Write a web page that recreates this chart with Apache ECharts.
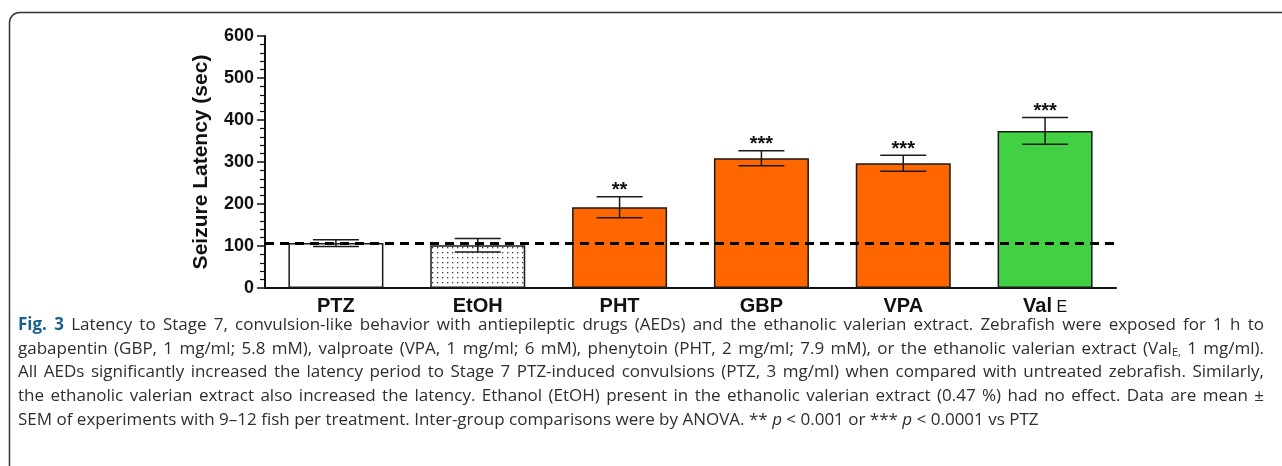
<!DOCTYPE html>
<html>
<head>
<meta charset="utf-8">
<style>
  html, body { margin: 0; padding: 0; background: #fff; }
  #chart { width: 1282px; height: 466px; }
</style>
<script src="https://cdn.jsdelivr.net/npm/echarts@6/dist/echarts.min.js"></script>
</head>
<body>
<div id="chart"></div>
<script>
// Treatment groups and seizure latency (mean ± SEM, seconds)
const categories = ['PTZ', 'EtOH', 'PHT', 'GBP', 'VPA', 'ValE'];
const latencyMean = [107, 102, 192, 309, 297, 374];
const latencySem = [8, 16, 25, 18, 19, 32];
const significance = ['', '', '**', '***', '***', '***'];
const yTicks = [0, 100, 200, 300, 400, 500, 600];

const ORANGE = '#FF6600';
const GREEN = '#42D142';

// Small dot pattern used for the vehicle (EtOH) bar
function dotPattern() {
  const c = document.createElement('canvas');
  c.width = 5; c.height = 5;
  const g = c.getContext('2d');
  g.fillStyle = '#ffffff';
  g.fillRect(0, 0, 5, 5);
  g.fillStyle = '#3a3a3a';
  g.fillRect(2, 2, 1.3, 1.3);
  return c;
}

const barFills = [
  '#ffffff',
  { image: dotPattern(), repeat: 'repeat' },
  ORANGE, ORANGE, ORANGE,
  GREEN
];

// Figure caption, one entry per printed line ({style|text} runs)
const captionLines = [
  '{fig|Fig. 3}{t| Latency to Stage 7, convulsion-like behavior with antiepileptic drugs (AEDs) and the ethanolic valerian extract. Zebrafish were exposed for 1 h to}',
  '{t|gabapentin (GBP, 1 mg/ml; 5.8 mM), valproate (VPA, 1 mg/ml; 6 mM), phenytoin (PHT, 2 mg/ml; 7.9 mM), or the ethanolic valerian extract (Val}{sub|E,}{t| 1 mg/ml).}',
  '{t|All AEDs significantly increased the latency period to Stage 7 PTZ-induced convulsions (PTZ, 3 mg/ml) when compared with untreated zebrafish. Similarly,}',
  '{t|the ethanolic valerian extract also increased the latency. Ethanol (EtOH) present in the ethanolic valerian extract (0.47 %) had no effect. Data are mean ±}',
  '{t|SEM of experiments with 9–12 fish per treatment. Inter-group comparisons were by ANOVA. ** }{it|p}{t| < 0.001 or *** }{it|p}{t| < 0.0001 vs PTZ}'
];

const captionFamily = '"Open Sans", "Noto Sans", sans-serif';
const captionFonts = {
  t: '17px ' + captionFamily,
  fig: 'bold 17px ' + captionFamily,
  it: 'italic 17px ' + captionFamily,
  sub: '11px ' + captionFamily
};
const captionColors = { t: '#2e2e2e', fig: '#1b5f8c', it: '#2e2e2e', sub: '#2e2e2e' };
const captionLeft = 18, captionRight = 1264, captionTop = 325, captionLead = 23.7;

// Split a caption line into words, each made of styled pieces
function parseLine(line) {
  const words = [];
  let cur = [];
  const re = /\{(\w+)\|([^}]*)\}/g;
  let m;
  while ((m = re.exec(line)) !== null) {
    const key = m[1];
    const parts = m[2].split(' ');
    parts.forEach(function (p, j) {
      if (j > 0 && cur.length) { words.push(cur); cur = []; }
      if (p) cur.push([key, p]);
    });
  }
  if (cur.length) words.push(cur);
  return words;
}

// Lay the caption out as a justified paragraph (last line left-aligned)
function buildCaption() {
  const ctx = document.createElement('canvas').getContext('2d');
  const measure = function (key, s) { ctx.font = captionFonts[key]; return ctx.measureText(s).width; };
  const spaceW = measure('t', ' ');
  const els = [];
  captionLines.forEach(function (line, li) {
    const words = parseLine(line).map(function (w) {
      const pieces = w.map(function (p) { return { key: p[0], text: p[1], w: measure(p[0], p[1]) }; });
      return { pieces: pieces, w: pieces.reduce(function (s, p) { return s + p.w; }, 0) };
    });
    const total = words.reduce(function (s, w) { return s + w.w; }, 0);
    const last = li === captionLines.length - 1;
    const gap = last ? spaceW : Math.max(spaceW * 0.8, (captionRight - captionLeft - total) / (words.length - 1));
    const y = captionTop + li * captionLead;
    let x = captionLeft;
    words.forEach(function (w) {
      let px = x;
      w.pieces.forEach(function (p) {
        els.push({
          type: 'text',
          silent: true,
          x: px,
          y: y + (p.key === 'sub' ? 4 : 0),
          style: {
            text: p.text,
            font: captionFonts[p.key],
            fill: captionColors[p.key],
            align: 'left',
            verticalAlign: 'middle'
          }
        });
        px += p.w;
      });
      x += w.w + gap;
    });
  });
  return els;
}

const chart = echarts.init(document.getElementById('chart'), null, { renderer: 'canvas' });

const option = {
  animation: false,
  backgroundColor: '#ffffff',
  grid: { left: 265, right: 166, top: 36, bottom: 178, containLabel: false },
  xAxis: {
    type: 'category',
    data: categories,
    axisLine: { show: true, lineStyle: { color: '#111', width: 2 } },
    axisTick: { show: false },
    axisLabel: {
      interval: 0,
      margin: 8,
      color: '#111',
      fontFamily: '"Liberation Sans", Arial, sans-serif',
      fontWeight: 'bold',
      fontSize: 20,
      formatter: function (v) {
        return v === 'ValE' ? '{b|Val}{s| E}' : '{b|' + v + '}';
      },
      rich: {
        b: { fontFamily: '"Liberation Sans", Arial, sans-serif', fontWeight: 'bold', fontSize: 20, color: '#111' },
        s: { fontFamily: '"Liberation Sans", Arial, sans-serif', fontWeight: 'normal', fontSize: 16, color: '#111', padding: [4, 0, 0, 0] }
      }
    },
    splitLine: { show: false }
  },
  yAxis: {
    type: 'value',
    min: yTicks[0],
    max: yTicks[yTicks.length - 1],
    interval: yTicks[1] - yTicks[0],
    name: 'Seizure Latency (sec)',
    nameLocation: 'middle',
    nameGap: 53,
    nameRotate: 90,
    nameTextStyle: {
      fontFamily: '"Liberation Sans", Arial, sans-serif',
      fontWeight: 'bold',
      fontSize: 21,
      color: '#111'
    },
    axisLine: { show: true, lineStyle: { color: '#111', width: 2 } },
    axisTick: { show: true, length: 8, lineStyle: { color: '#111', width: 1.5 } },
    minorTick: { show: true, splitNumber: 5, length: 5, lineStyle: { color: '#111', width: 1.2 } },
    axisLabel: {
      margin: 11,
      color: '#111',
      fontFamily: '"Liberation Sans", Arial, sans-serif',
      fontWeight: 'bold',
      fontSize: 18
    },
    splitLine: { show: false }
  },
  series: [
    {
      type: 'bar',
      barWidth: 95,
      z: 2,
      data: latencyMean.map((v, i) => ({
        value: v,
        itemStyle: { color: barFills[i], borderColor: '#1a1a1a', borderWidth: 1.5 }
      }))
    },
    {
      type: 'custom',
      z: 4,
      data: categories.map((c, i) => [i, latencyMean[i], latencySem[i]]),
      renderItem: function (params, api) {
        const i = api.value(0);
        const mean = api.value(1);
        const sem = api.value(2);
        const top = api.coord([i, mean + sem]);
        const bottom = api.coord([i, mean - sem]);
        const hw = 23;
        const stroke = { stroke: '#1a1a1a', lineWidth: 1.5 };
        const children = [
          { type: 'line', shape: { x1: top[0], y1: top[1], x2: bottom[0], y2: bottom[1] }, style: stroke },
          { type: 'line', shape: { x1: top[0] - hw, y1: top[1], x2: top[0] + hw, y2: top[1] }, style: stroke },
          { type: 'line', shape: { x1: bottom[0] - hw, y1: bottom[1], x2: bottom[0] + hw, y2: bottom[1] }, style: stroke }
        ];
        const sig = significance[params.dataIndex];
        if (sig) {
          children.push({
            type: 'text',
            style: {
              text: sig,
              x: top[0],
              y: top[1] - 6,
              align: 'center',
              verticalAlign: 'middle',
              fill: '#111',
              font: 'bold 20px "Liberation Sans", Arial, sans-serif'
            }
          });
        }
        return { type: 'group', children: children };
      },
      markLine: {
        silent: true,
        symbol: ['none', 'none'],
        label: { show: false },
        lineStyle: { color: '#000', width: 3, type: [9, 6] },
        data: [{ yAxis: latencyMean[0] }]
      }
    }
  ],
  graphic: [
    {
      type: 'rect',
      z: -1,
      silent: true,
      shape: { x: 9.5, y: 12.5, width: 1400, height: 600, r: 10 },
      style: { fill: 'none', stroke: '#333', lineWidth: 1.5 }
    },
    {
      type: 'group',
      silent: true,
      children: buildCaption()
    }
  ]
};

chart.setOption(option);
</script>
</body>
</html>
